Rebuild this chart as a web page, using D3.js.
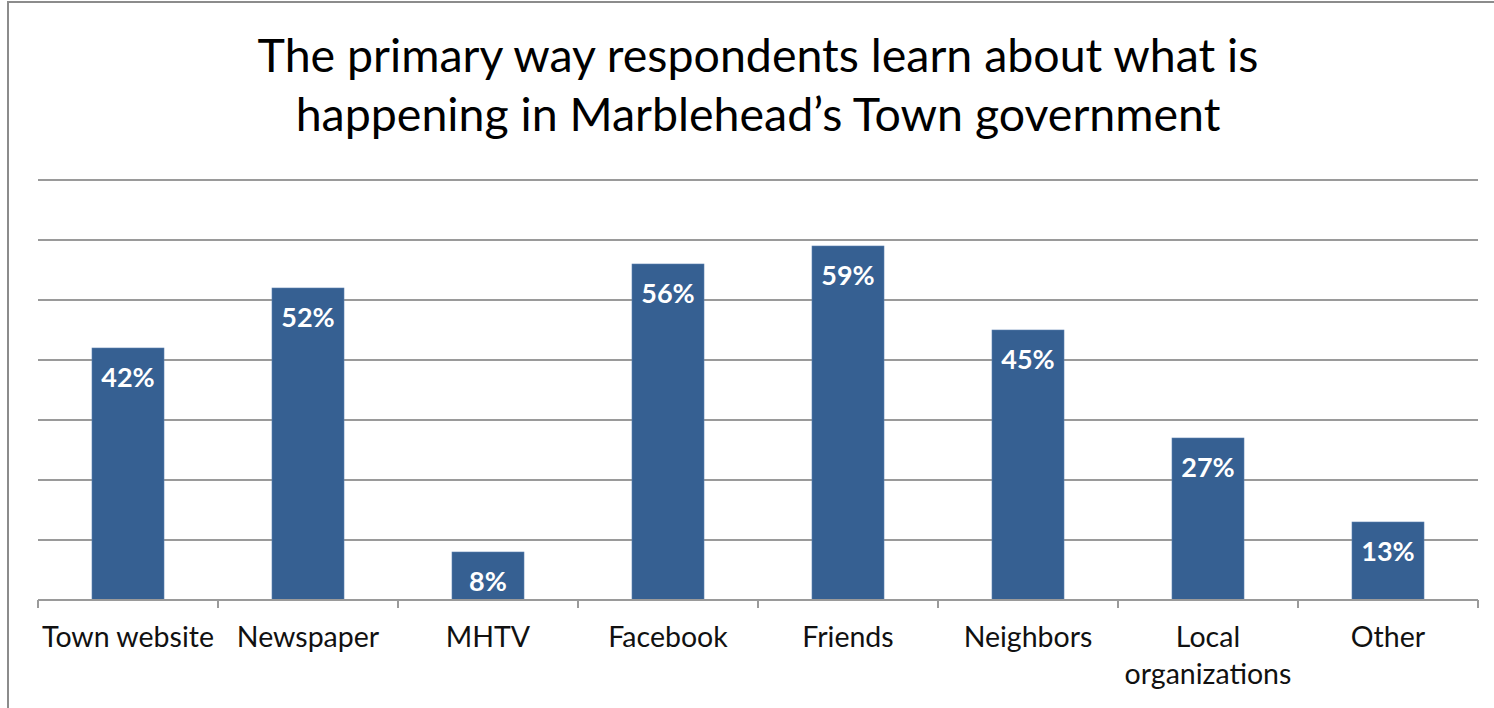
<!DOCTYPE html>
<html>
<head>
<meta charset="utf-8">
<script src="https://cdn.jsdelivr.net/npm/d3@7"></script>
<style>
  html, body { margin: 0; padding: 0; background: #fff; }
  svg { display: block; }
</style>
</head>
<body>
<svg id="chart" width="1494" height="708"></svg>
<script>
// data
const categories = ['Town website', 'Newspaper', 'MHTV', 'Facebook', 'Friends', 'Neighbors', 'Local organizations', 'Other'];
const values = [42, 52, 8, 56, 59, 45, 27, 13];
const yTicks = [0, 10, 20, 30, 40, 50, 60, 70];
const titleLines = ['The primary way respondents learn about what is', 'happening in Marblehead\u2019s Town government'];

const W = 1494, H = 708;
const margin = { top: 180, right: 16, bottom: 108, left: 38 };
const font = 'Lato, "Open Sans", sans-serif';

const svg = d3.select('#chart');

// outer frame (runs off the right/bottom edge like the source screenshot)
svg.append('rect')
  .attr('x', 8).attr('y', 2)
  .attr('width', W).attr('height', H)
  .attr('fill', 'none')
  .attr('stroke', '#8c8c8c')
  .attr('stroke-width', 2);

const x = d3.scaleBand()
  .domain(categories)
  .range([margin.left, W - margin.right])
  .paddingInner(0.6)
  .paddingOuter(0.3);

const y = d3.scaleLinear()
  .domain([0, 70])
  .range([H - margin.bottom, margin.top]);

// gridlines
svg.append('g')
  .selectAll('line')
  .data(yTicks.slice(1))
  .join('line')
  .attr('x1', margin.left).attr('x2', W - margin.right)
  .attr('y1', d => y(d)).attr('y2', d => y(d))
  .attr('stroke', '#9a9a9a')
  .attr('stroke-width', 2);

// bars
svg.append('g')
  .selectAll('rect')
  .data(values)
  .join('rect')
  .attr('x', (d, i) => x(categories[i]))
  .attr('y', d => y(d))
  .attr('width', x.bandwidth())
  .attr('height', d => y(0) - y(d))
  .attr('fill', '#366092')
  .attr('stroke', '#5a7fae')
  .attr('stroke-width', 0.6);

// value labels
svg.append('g')
  .selectAll('text')
  .data(values)
  .join('text')
  .attr('x', (d, i) => x(categories[i]) + x.bandwidth() / 2)
  .attr('y', d => y(d) + 30)
  .attr('dy', '0.35em')
  .attr('text-anchor', 'middle')
  .attr('fill', '#fff')
  .attr('font-family', font)
  .attr('font-weight', 700)
  .attr('font-size', 27)
  .text(d => d + '%');

// x axis baseline + boundary ticks
const step = x.step();
const axisG = svg.append('g');
axisG.append('line')
  .attr('x1', margin.left).attr('x2', W - margin.right)
  .attr('y1', y(0)).attr('y2', y(0))
  .attr('stroke', '#9a9a9a')
  .attr('stroke-width', 2);
axisG.selectAll('.tick')
  .data(d3.range(categories.length + 1))
  .join('line')
  .attr('x1', i => margin.left + i * step)
  .attr('x2', i => margin.left + i * step)
  .attr('y1', y(0)).attr('y2', y(0) + 8)
  .attr('stroke', '#9a9a9a')
  .attr('stroke-width', 2);

// category labels (wrap "Local organizations")
const labels = axisG.selectAll('.cat')
  .data(categories)
  .join('text')
  .attr('class', 'cat')
  .attr('x', d => x(d) + x.bandwidth() / 2)
  .attr('y', 647)
  .attr('text-anchor', 'middle')
  .attr('fill', '#111')
  .attr('font-family', font)
  .attr('font-size', 28.5);

labels.each(function (d) {
  const t = d3.select(this);
  const words = d === 'Local organizations' ? d.split(' ') : [d];
  words.forEach((w, k) => {
    t.append('tspan')
      .attr('x', x(d) + x.bandwidth() / 2)
      .attr('dy', k === 0 ? 0 : 37)
      .text(w);
  });
});

// title
svg.append('text')
  .attr('text-anchor', 'middle')
  .attr('fill', '#000')
  .attr('font-family', font)
  .attr('font-size', 46.5)
  .selectAll('tspan')
  .data(titleLines)
  .join('tspan')
  .attr('x', (margin.left + W - margin.right) / 2)
  .attr('y', (d, i) => 72 + i * 59)
  .text(d => d);
</script>
</body>
</html>
